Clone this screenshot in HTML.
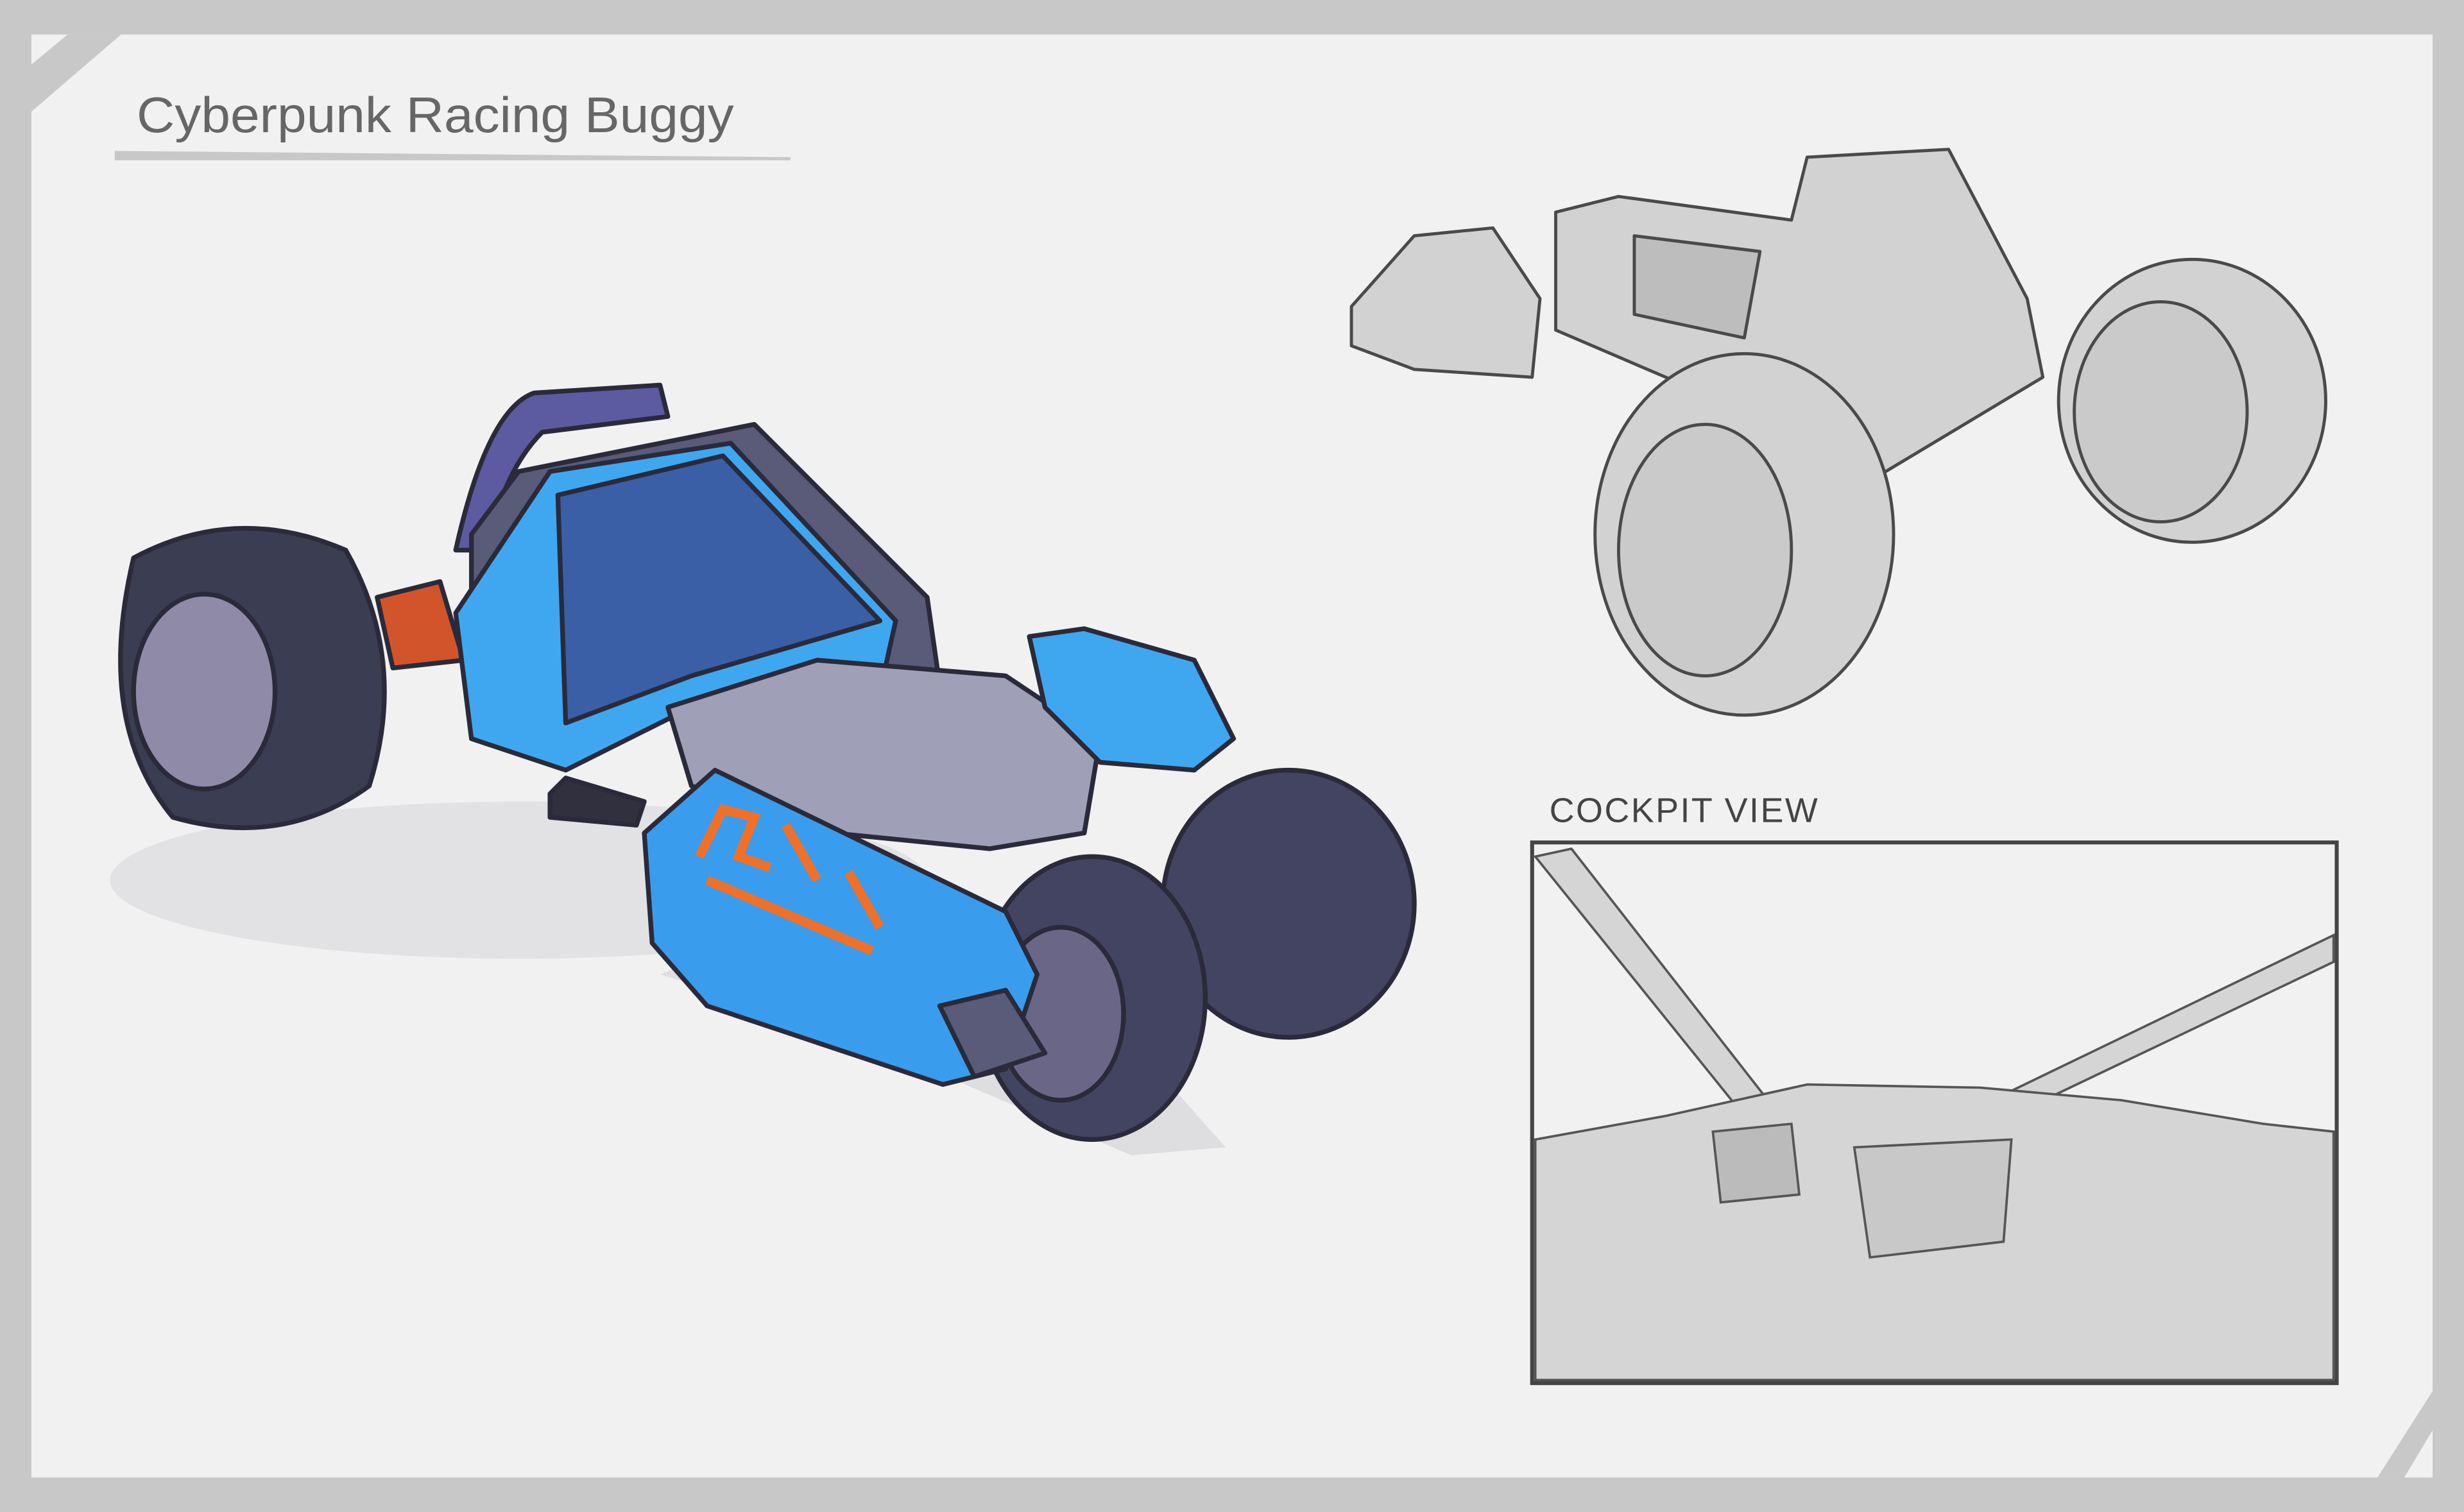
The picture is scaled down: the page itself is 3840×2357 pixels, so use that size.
<!DOCTYPE html>
<html><head><meta charset="utf-8"><style>
html,body{margin:0;padding:0;background:#c8c8c8;}
svg{display:block;width:3840px;height:2357px;}
</style></head><body>
<svg viewBox="0 0 1568 962" preserveAspectRatio="none" xmlns="http://www.w3.org/2000/svg">
<rect width="1568" height="962" fill="#c8c8c8"/>
<rect x="20" y="22" width="1528" height="918" fill="#f1f1f2"/>
<polygon points="43,22 77,22 20,71 20,41" fill="#c8c8c8"/>
<polygon points="1548,940 1548,885 1513,940" fill="#c8c8c8"/>
<polygon points="1548,940 1548,910 1530,940" fill="#f1f1f2"/>
<text x="87" y="84" font-family="Liberation Sans, sans-serif" font-size="32" font-weight="300" fill="#666" textLength="380" lengthAdjust="spacingAndGlyphs">Cyberpunk Racing Buggy</text>
<polygon points="73,96 503,100 503,102 73,102" fill="#c8c8c8"/>

<!-- shadows -->
<ellipse cx="330" cy="560" rx="260" ry="50" fill="#e2e2e4"/>
<polygon points="420,620 520,650 720,735 780,730 700,640 470,600" fill="#dedee0"/>

<!-- blue buggy -->
<g stroke="#2a2a3a" stroke-width="3" stroke-linejoin="round">
<path d="M85,355 Q150,320 220,350 Q260,420 235,500 Q180,540 110,520 Q60,460 85,355Z" fill="#3b3d52"/>
<ellipse cx="130" cy="440" rx="45" ry="62" fill="#8f8aa8"/>
<path d="M290,350 Q310,260 340,250 L420,245 L425,265 L345,275 Q320,300 310,350Z" fill="#5c5aa0"/>
<path d="M240,380 L280,370 L295,420 L250,425Z" fill="#d2542a"/>
<path d="M300,340 L330,300 L480,270 L590,380 L600,450 L430,440 L330,470 L300,420Z" fill="#5a5b78"/>
<path d="M290,390 L350,300 L465,282 L570,395 L560,440 L440,450 L360,490 L300,470Z" fill="#3fa7f0"/>
<path d="M355,315 L460,290 L560,395 L440,430 L360,460Z" fill="#3a5fa6"/>
<path d="M425,450 L520,420 L640,430 L700,470 L690,530 L630,540 L530,530 L440,500Z" fill="#9fa0b8"/>
<path d="M655,405 L690,400 L760,420 L785,470 L760,490 L700,485 L665,450Z" fill="#3fa7f0"/>
<ellipse cx="820" cy="575" rx="80" ry="85" fill="#424461"/>
<ellipse cx="695" cy="635" rx="72" ry="90" fill="#424461"/>
<ellipse cx="675" cy="645" rx="40" ry="55" fill="#6a6688"/>
<path d="M410,530 L455,490 L640,580 L660,620 L640,680 L600,690 L450,640 L415,600Z" fill="#3a9cec"/>
<path d="M598,640 L640,630 L665,670 L620,685Z" fill="#5a5b78"/>
<path d="M350,505 L360,495 L410,510 L405,525 L350,520Z" fill="#30303e"/>
</g>
<g fill="none" stroke="#f07028" stroke-width="6">
<path d="M445,545 L460,515 L480,520 L470,545 L490,552"/>
<path d="M500,525 L520,560"/>
<path d="M540,555 L560,590"/>
<path d="M555,605 L450,560"/>
</g>

<!-- grey buggy -->
<g stroke="#4a4a4a" stroke-width="2" stroke-linejoin="round" fill="#d2d2d2">
<path d="M860,195 L900,150 L950,145 L980,190 L975,240 L900,235 L860,220Z"/>
<path d="M990,135 L1030,125 L1140,140 L1150,100 L1240,95 L1290,190 L1300,240 L1200,300 L1060,240 L990,210Z"/>
<ellipse cx="1395" cy="255" rx="85" ry="90"/>
<ellipse cx="1375" cy="262" rx="55" ry="70" fill="#cacaca"/>
<ellipse cx="1110" cy="340" rx="95" ry="115"/>
<ellipse cx="1085" cy="350" rx="55" ry="80" fill="#cacaca"/>
<path d="M1040,150 L1120,160 L1110,215 L1040,200Z" fill="#bdbdbd"/>
</g>

<!-- cockpit view -->
<text x="986" y="523" font-family="Liberation Sans, sans-serif" font-size="22" fill="#444" letter-spacing="1">COCKPIT VIEW</text>
<rect x="975" y="536" width="512" height="344" fill="#f1f1f2" stroke="#444" stroke-width="2.5"/>
<g stroke="#555" stroke-width="1.5" fill="#d5d5d5">
<polygon points="977,545 1000,540 1125,700 1110,710"/>
<polygon points="1485,595 1485,612 1290,705 1278,695"/>
<path d="M977,725 L1060,710 L1150,690 L1260,692 L1350,700 L1440,715 L1485,720 L1485,878 L977,878Z"/>
<path d="M1090,720 L1140,715 L1145,760 L1095,765Z" fill="#bbb"/>
<path d="M1180,730 L1280,725 L1275,790 L1190,800Z" fill="#c8c8c8"/>
</g>
</svg>
</body></html>
